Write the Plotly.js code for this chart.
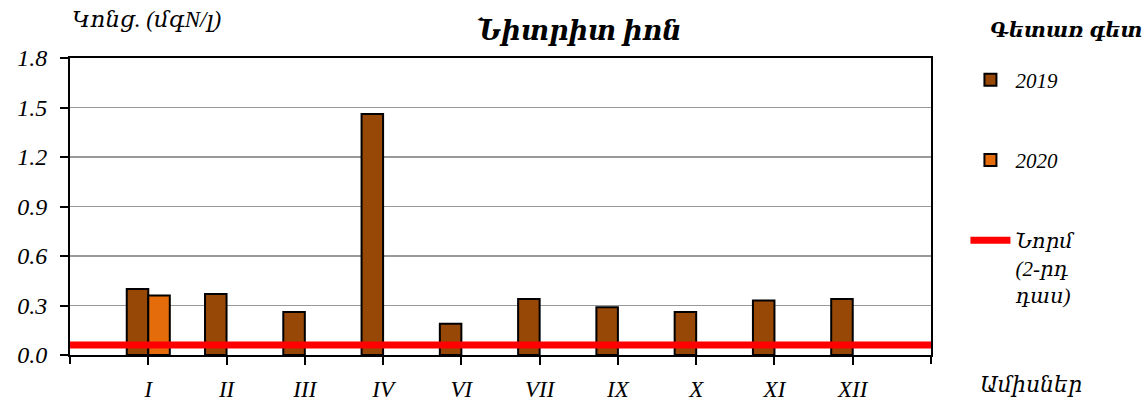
<!DOCTYPE html>
<html>
<head>
<meta charset="utf-8">
<script src="https://cdn.plot.ly/plotly-3.0.1.min.js"></script>
<style>html,body{margin:0;padding:0;background:#fff;}#chart{width:1147px;height:402px;}</style>
</head>
<body>
<div id="chart"></div>
<script>
const months = ["I", "II", "III", "IV", "VI", "VII", "IX", "X", "XI", "XII"];
const values2019 = [0.40, 0.37, 0.26, 1.46, 0.19, 0.34, 0.29, 0.26, 0.33, 0.34];
const values2020 = [0.36, null, null, null, null, null, null, null, null, null];
const normValue = 0.06;
const yTicks = [0.0, 0.3, 0.6, 0.9, 1.2, 1.5, 1.8];
const yTickText = ["0.0", "0.3", "0.6", "0.9", "1.2", "1.5", "1.8"];

const FONT = "Liberation Serif, DejaVu Serif, serif";

const traces = [
  {type: 'bar', name: '2019', x: months, y: values2019, legendgroup: 'a',
   marker: {color: '#974806', line: {color: '#000', width: 2}}},
  {type: 'bar', name: '2020', x: months, y: values2020, legendgroup: 'b',
   marker: {color: '#E46C0A', line: {color: '#000', width: 2}}},
  {type: 'scatter', mode: 'lines', name: 'Նորմ<br>(2-րդ<br>դաս)', legendgroup: 'c',
   x: [0, 1], y: [normValue, normValue], xaxis: 'x2',
   line: {color: '#FF0000', width: 7}}
];

const layout = {
  width: 1147, height: 402,
  margin: {l: 70, r: 216, t: 58, b: 47},
  paper_bgcolor: '#fff', plot_bgcolor: '#fff',
  font: {family: FONT, size: 20, color: '#000', style: 'italic'},
  barmode: 'group', bargap: 0.45, bargroupgap: 0,
  title: {text: 'Նիտրիտ իոն', xref: 'container', x: 0.505, xanchor: 'center',
          yref: 'container', y: 0.925, yanchor: 'middle',
          font: {family: FONT, size: 27, color: '#000', style: 'italic', weight: 'bold'}},
  xaxis: {type: 'category', categoryorder: 'array', categoryarray: months,
          range: [-1, 10], showgrid: false, zeroline: false,
          showline: true, linecolor: '#000', linewidth: 2, mirror: true,
          ticks: 'outside', ticklen: 8, tickwidth: 2, tickcolor: '#000',
          ticklabelstandoff: 4,
          tickfont: {family: FONT, size: 23, style: 'italic'}},
  xaxis2: {overlaying: 'x', range: [0, 1], showgrid: false, zeroline: false,
           showline: false, tickvals: [0, 1], showticklabels: false,
           ticks: 'outside', ticklen: 8, tickwidth: 2, tickcolor: '#000', fixedrange: true},
  yaxis: {range: [0, 1.8], tickvals: yTicks, ticktext: yTickText,
          showgrid: true, gridcolor: '#999', gridwidth: 1.5, zeroline: false,
          showline: true, linecolor: '#000', linewidth: 2, mirror: true,
          ticks: 'outside', ticklen: 8, tickwidth: 2, tickcolor: '#000',
          ticklabelstandoff: 8,
          tickfont: {family: FONT, size: 24, style: 'italic'}},
  showlegend: true,
  legend: {x: 1.04, xanchor: 'left', y: 0.995, yanchor: 'top',
           traceorder: 'grouped', tracegroupgap: 50, valign: 'top',
           bgcolor: 'rgba(0,0,0,0)', itemwidth: 40,
           font: {family: FONT, size: 21, style: 'italic'}},
  annotations: [
    {text: 'Կոնց. (մգN/լ)', xref: 'paper', yref: 'paper', x: 0, y: 1.128,
     xanchor: 'left', yanchor: 'middle', showarrow: false,
     font: {family: FONT, size: 23, style: 'italic'}},
    {text: 'Գետառ գետ', xref: 'paper', yref: 'paper', x: 1.066, y: 1.094,
     xanchor: 'left', yanchor: 'middle', showarrow: false,
     font: {family: FONT, size: 21, style: 'italic', weight: 'bold'}},
    {text: 'Ամիսներ', xref: 'paper', yref: 'paper', x: 1.055, y: -0.101,
     xanchor: 'left', yanchor: 'middle', showarrow: false,
     font: {family: FONT, size: 22, style: 'italic'}}
  ]
};

Plotly.newPlot('chart', traces, layout, {displayModeBar: false, staticPlot: true});
</script>
</body>
</html>
